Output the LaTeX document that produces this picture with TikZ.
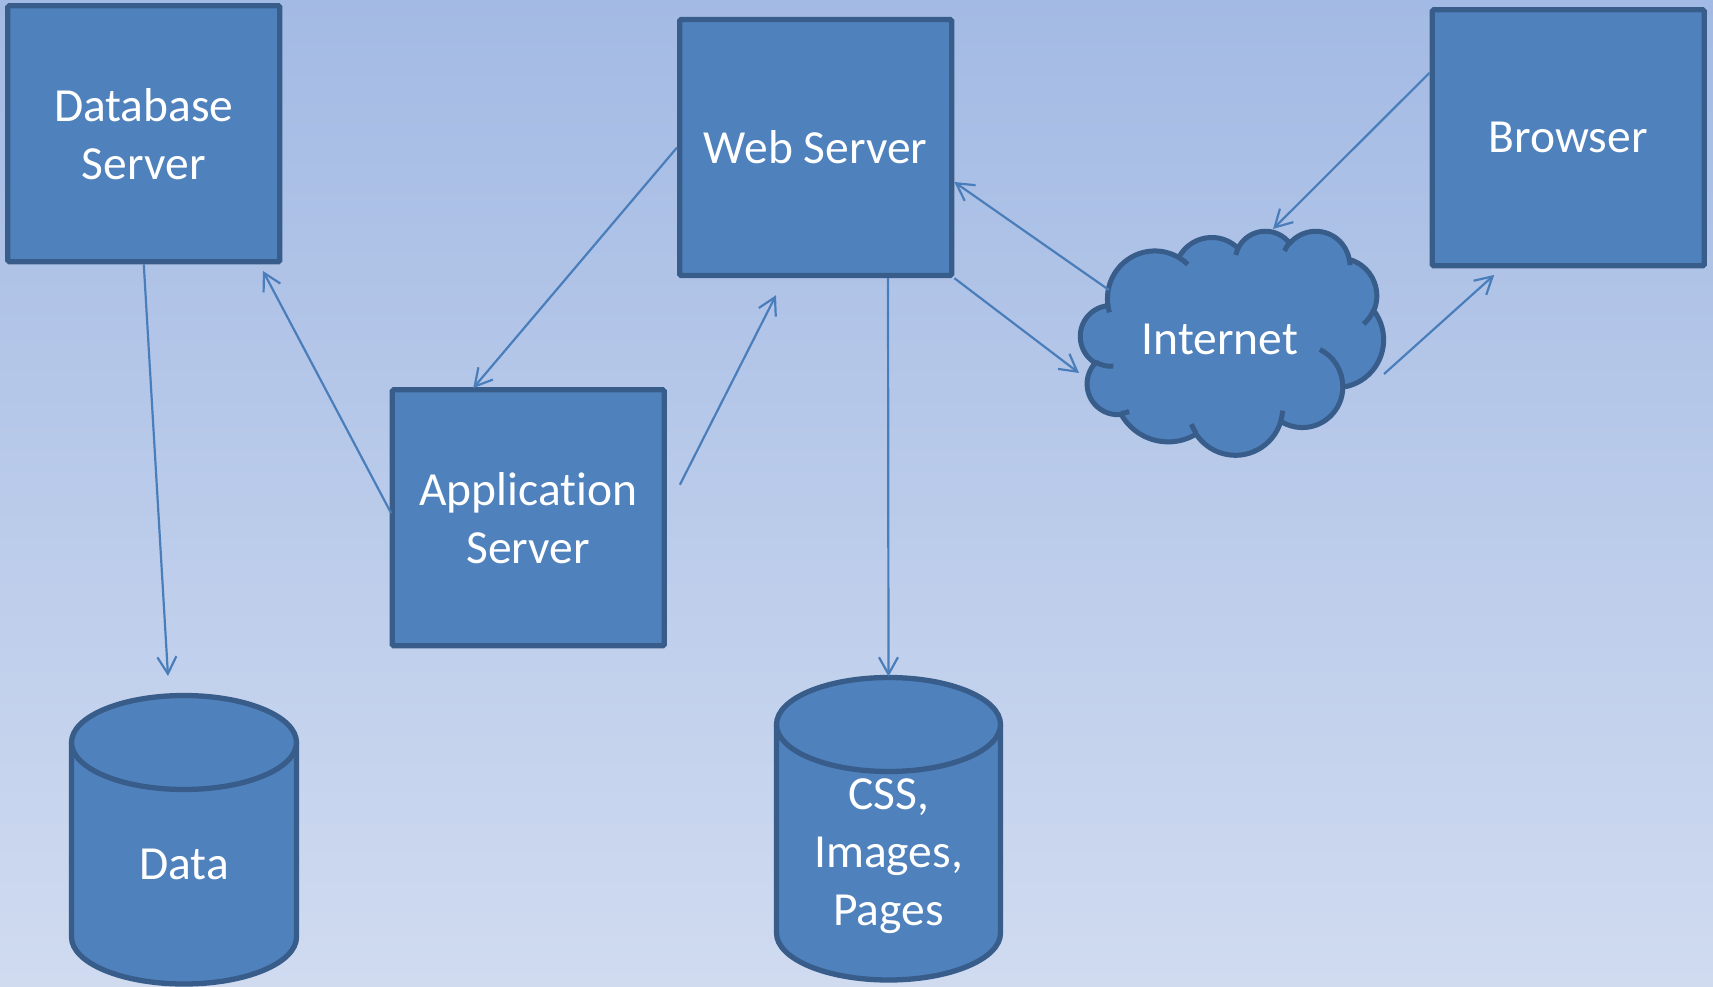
\documentclass[tikz,border=0pt]{standalone}
\usepackage{fontspec}
\setmainfont{Carlito}[RawFeature={-liga}]
\usetikzlibrary{arrows.meta,calc}
\definecolor{bgtop}{RGB}{163,186,228}
\definecolor{bgbot}{RGB}{208,219,240}
\definecolor{boxfill}{RGB}{79,129,189}
\definecolor{boxline}{RGB}{56,93,138}
\definecolor{arrowc}{RGB}{74,126,187}
% cloud helpers (OOXML cloud preset, coordinates /100)
\def\cldsx{0.70139}\def\cldsy{0.51852}\def\cldx{1080.5}\def\cldy{230.5}
\newcommand\cldmove[2]{\pgfpathmoveto{\pgfpoint{(\cldx+#1*\cldsx)*1pt}{(0-\cldy-#2*\cldsy)*1pt}}}
\newcommand\cldarc[4]{%
  \pgfmathsetmacro\cta{atan2(#1*sin(#3),#2*cos(#3))}%
  \pgfmathsetmacro\ctb{atan2(#1*sin(#3+#4),#2*cos(#3+#4))}%
  \pgfmathsetmacro\cdd{\ctb-\cta}%
  \pgfmathsetmacro\cdd{\cdd-360*round((\cdd-(#4))/360)}%
  \pgfmathsetmacro\cna{0-(\cta)}%
  \pgfmathsetmacro\cnb{0-(\cta)-(\cdd)}%
  \pgfmathsetmacro\crx{#1*\cldsx}%
  \pgfmathsetmacro\cry{#2*\cldsy}%
  \pgfpatharc{\cna}{\cnb}{\crx pt and \cry pt}}
\newcommand\mycyl[4]{%
  \filldraw[cylst] (#1-#4,#2) -- (#1-#4,#3)
    arc[start angle=180,end angle=0,x radius=#4,y radius=47] -- (#1+#4,#2)
    arc[start angle=0,end angle=-180,x radius=#4,y radius=47] -- cycle;
  \draw[cylst] (#1-#4,#2) arc[start angle=180,end angle=0,x radius=#4,y radius=47];}
\begin{document}
\begin{tikzpicture}[x=1pt,y=-1pt,
  lbl/.style={text=white,align=center,font=\fontsize{47.5}{58}\selectfont,inner sep=0pt},
  box/.style={lbl,draw=boxline,fill=boxfill,line width=5.3pt,minimum width=272pt,
    minimum height=256pt,rounded corners=1.5pt},
  cylst/.style={draw=boxline,fill=boxfill,line width=5.3pt},
  conn/.style={draw=arrowc,line width=2.2pt,-{Straight Barb[length=17pt,width=19pt]}}]
\useasboundingbox (0,0) rectangle (1713,987);
\shade[top color=bgtop,bottom color=bgbot] (0,0) rectangle (1713,987);
% boxes
\node[box] (db) at (143.8,133.8) {Database\\Server};
\node[box] (web) at (815.7,147.5) {Web Server};
\node[box] (browser) at (1568.2,137.8) {Browser};
\node[box] (app) at (528.2,517.8) {Application\\Server};
% cylinders
\mycyl{184}{742.5}{937}{112.5}
\coordinate (datatop) at (184,695.5);
\node[lbl] (data) at (184,864) {Data};
\mycyl{888.5}{724.5}{933}{112}
\coordinate (csstop) at (888.5,677.5);
\node[lbl] (css) at (888.5,856) {CSS,\\Images,\\Pages};
% cloud
\begin{pgfscope}
\pgfsetlinewidth{5pt}
\pgfsetroundjoin
\pgfsetstrokecolor{boxline}
\pgfsetfillcolor{boxfill}
\cldmove{39.00}{143.70}
\cldarc{67.53}{91.90}{-190.4875}{123.7805}
\cldarc{53.33}{72.67}{-144.1024}{89.9452}
\cldarc{43.65}{59.45}{-145.8079}{99.7230}
\cldarc{48.57}{65.95}{-130.9861}{117.2417}
\cldarc{53.33}{72.73}{-78.7089}{109.0269}
\cldarc{67.75}{92.20}{-46.2673}{130.2690}
\cldarc{57.85}{78.67}{0.6250}{114.0333}
\cldarc{67.52}{92.15}{22.4516}{115.1726}
\cldarc{77.20}{105.43}{66.2426}{75.7110}
\cldarc{43.60}{59.18}{-274.9421}{146.7356}
\cldarc{43.45}{59.45}{-246.8285}{152.5189}
\pgfpathclose
\pgfusepath{fill,stroke}
\cldmove{46.93}{261.77}\cldarc{43.45}{59.45}{86.7420}{26.4295}
\cldmove{69.28}{348.99}\cldarc{43.60}{59.18}{73.6105}{11.4475}
\cldmove{164.78}{390.90}\cldarc{67.52}{92.15}{137.6242}{14.0811}
\cldmove{288.27}{347.51}\cldarc{67.52}{92.15}{6.4533}{15.9984}
\cldmove{341.29}{229.54}\cldarc{57.85}{78.67}{-70.2924}{70.9174}
\cldmove{417.98}{153.54}\cldarc{53.33}{72.73}{30.3180}{27.7515}
\cldmove{383.24}{54.26}\cldarc{48.57}{65.95}{-13.7443}{14.8589}
\cldmove{290.78}{39.52}\cldarc{48.57}{65.95}{-149.1815}{18.1954}
\cldmove{221.41}{47.20}\cldarc{43.65}{59.45}{-163.4943}{17.6864}
\cldmove{140.00}{51.92}\cldarc{67.53}{91.90}{-66.7070}{12.3194}
\cldmove{41.27}{157.89}\cldarc{67.53}{91.90}{157.6544}{11.8582}
\pgfusepath{stroke}
\end{pgfscope}
\node[lbl] (internet) at (1220,339) {Internet};
\coordinate (cloudc) at (1232,342.5);
% connectors
\draw[conn] (db.south) -- ($(datatop)+(-16,-19.5)$);
\draw[conn] ($(app.west)+(1.5,-4.8)$) -- ($(db.south east)+(-19.5,6.5)$);
\draw[conn] (web.west) -- ($(app.north)+(-55,1)$);
\draw[conn] ($(app.east)+(13,-33)$) -- ($(web.south)+(-39.7,17)$);
\draw[conn] ($(web.south)+(72.3,0)$) -- ($(csstop)+(0,-1)$);
\draw[conn] ($(cloudc)+(-123,-52.5)$) -- ($(web.east)+(0,34.5)$);
\draw[conn] (web.south east) -- ($(cloudc)+(-153,30.5)$);
\draw[conn] ($(browser.west)+(0,-65)$) -- ($(cloudc)+(41,-113.5)$);
\draw[conn] ($(cloudc)+(152,31.5)$) -- ($(browser.south)+(-74,6.5)$);
\end{tikzpicture}
\end{document}
